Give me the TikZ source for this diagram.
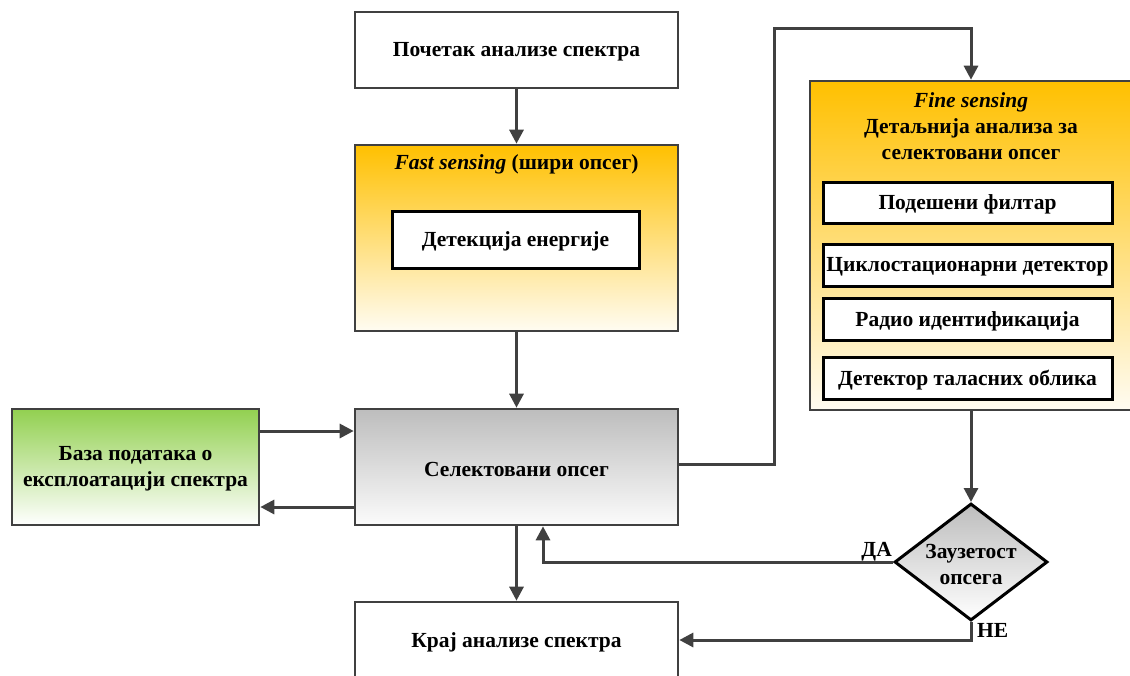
\documentclass[tikz,border=0pt]{standalone}
\usepackage{fontspec}
\setmainfont{Liberation Serif}
\usetikzlibrary{shapes.geometric,arrows.meta,calc}
\definecolor{lgray}{HTML}{404040}
\definecolor{gold}{HTML}{FFC000}
\definecolor{goldw}{HTML}{FFFCF2}
\definecolor{grn}{HTML}{92D050}
\definecolor{sgray}{HTML}{BDBDBD}
\tikzset{
  outer/.style={draw=lgray, line width=2.6pt, inner sep=0pt},
  inner/.style={draw=black, fill=white, line width=3pt, inner sep=0pt},
  txt/.style={font=\fontsize{21.5}{26}\selectfont\bfseries, align=center, inner sep=0pt},
  btxt/.style={txt, yshift=-2pt},
  arr/.style={draw=lgray, line width=3pt, -{Triangle[length=14pt,width=14pt]}},
}
\begin{document}
\begin{tikzpicture}[x=1pt,y=-1pt]
\useasboundingbox (0,0) rectangle (1130,675);
% start
\node[outer, fill=white, minimum width=323pt, minimum height=76pt] (start) at (516.5,50) {};
\node[btxt] (starttxt) at (start) {Почетак анализе спектра};
% fast sensing
\node[outer, top color=gold, bottom color=goldw, minimum width=323pt, minimum height=186pt] (fast) at (516.5,238) {};
\node[btxt] (fasttitle) at (516.5,162) {\itshape Fast sensing\upshape{} (шири опсег)};
\node[inner, minimum width=247pt, minimum height=57pt] (energy) at (515.5,239.5) {};
\node[btxt] (energytxt) at (energy) {Детекција енергије};
% selected
\node[outer, top color=sgray, bottom color=white!97!gray, minimum width=323pt, minimum height=116pt] (sel) at (516.5,467) {};
\node[btxt] (seltxt) at (sel) {Селектовани опсег};
% database
\node[outer, top color=grn, bottom color=white, minimum width=247pt, minimum height=116pt] (db) at (135.5,467) {};
\node[btxt] (dbtxt) at (db) {База података о\\експлоатацији спектра};
% end
\node[outer, fill=white, minimum width=323pt, minimum height=76pt] (end) at (516.5,640) {};
\node[btxt] (endtxt) at (end) {Крај анализе спектра};
% fine sensing
\node[outer, top color=gold, bottom color=goldw, minimum width=322pt, minimum height=329pt] (fine) at (971,245.5) {};
\node[txt] (finetitle) at (971,126) {{\itshape Fine sensing}\\Детаљнија анализа за\\селектовани опсег};
\node[inner, minimum width=289pt, minimum height=41pt] (f1) at (967.5,202.5) {};
\node[btxt] at (f1) {Подешени филтар};
\node[inner, minimum width=289pt, minimum height=42pt] (f2) at (967.5,265) {};
\node[btxt] at (f2) {Циклостационарни детектор};
\node[inner, minimum width=289pt, minimum height=42pt] (f3) at (967.5,319) {};
\node[btxt] at (f3) {Радио идентификација};
\node[inner, minimum width=289pt, minimum height=42pt] (f4) at (967.5,378) {};
\node[btxt] at (f4) {Детектор таласних облика};
% diamond
\node[diamond, draw=black, line width=3pt, top color=sgray, bottom color=white, minimum width=153pt, minimum height=117pt, aspect=1.31, inner sep=0pt] (dia) at (971,562) {};
\node[btxt] (diatxt) at (dia) {Заузетост\\опсега};
% connectors
\draw[arr] (start.south) -- (fast.north);
\draw[arr] (fast.south) -- (sel.north);
\draw[arr] (sel.south) -- (end.north);
\draw[arr] ([yshift=36pt]db.east) -- ([yshift=36pt]sel.west);
\draw[arr] ([yshift=-40pt]sel.west) -- ([yshift=-40pt]db.east);
\coordinate (c1) at (774,28);
\draw[arr] ([yshift=3pt]sel.east) -| (c1) -| (fine.north);
\draw[arr] (fine.south) -- (dia.north);
\coordinate (c2) at (543,562);
\draw[arr] (dia.west) -| (c2 |- sel.south);
\draw[arr] (dia.south) |- (end.east);
\node[txt, anchor=south east] (yes) at ([xshift=-1pt,yshift=1pt]dia.west) {ДА};
\node[txt, anchor=north west] (no) at ([xshift=6pt,yshift=-1pt]dia.south) {НЕ};
\end{tikzpicture}
\end{document}
